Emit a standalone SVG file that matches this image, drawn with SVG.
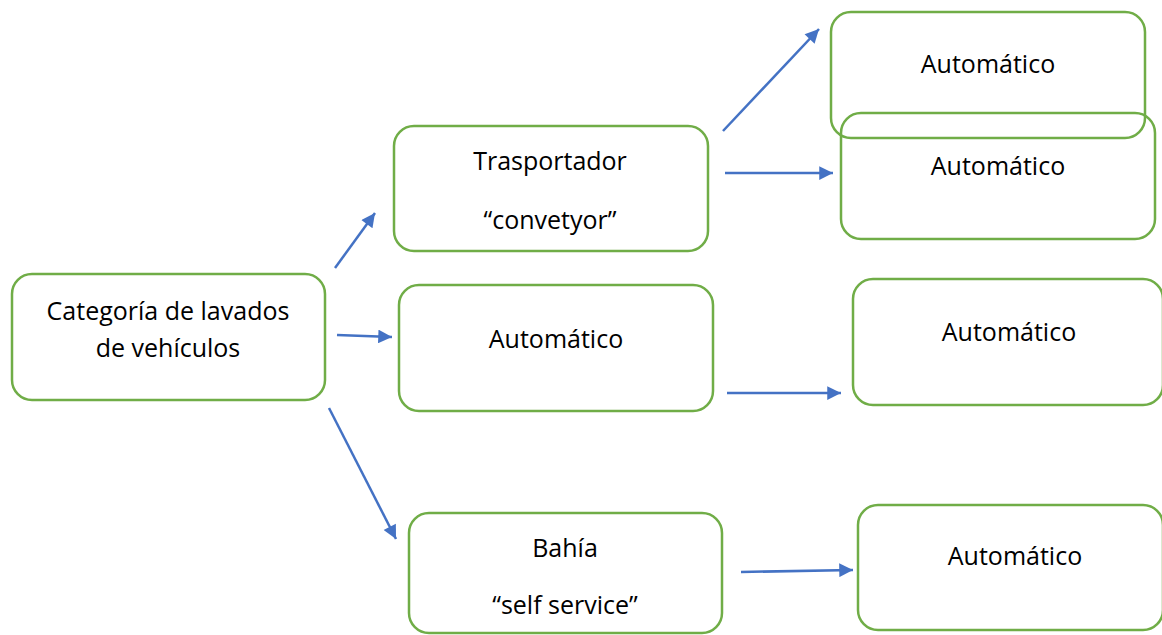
<svg xmlns="http://www.w3.org/2000/svg" width="1162" height="635" viewBox="0 0 1162 635">
<style>
.box{fill:#fff;fill-opacity:0;stroke:#70AD47;stroke-width:2.5}
.t{font-family:"Open Sans","Liberation Sans",sans-serif;font-size:25px;fill:#000;text-anchor:middle}
.c{stroke:#4472C4;stroke-width:2.5;fill:none;marker-end:url(#ah)}
</style>
<defs>
<marker id="ah" viewBox="0 0 10 10" refX="10" refY="5" markerWidth="6.5" markerHeight="5.5" orient="auto" markerUnits="strokeWidth">
<path d="M0,0 L10,5 L0,10 z" fill="#4472C4"/>
</marker>
</defs>
<rect width="1162" height="635" fill="#fff"/>
<g id="n-main"><rect class="box" x="12" y="274" width="313" height="126" rx="20"/>
<text class="t" x="168" y="320">Categoría de lavados</text>
<text class="t" x="168" y="357">de vehículos</text></g>
<g id="n-trasportador"><rect class="box" x="394" y="126" width="314" height="125" rx="20"/>
<text class="t" x="550" y="170">Trasportador</text>
<text class="t" x="550" y="229">“convetyor”</text></g>
<g id="n-automatico-mid"><rect class="box" x="399" y="285" width="314" height="126" rx="20"/>
<text class="t" x="556" y="348">Automático</text></g>
<g id="n-bahia"><rect class="box" x="409" y="513" width="313" height="120" rx="20"/>
<text class="t" x="565" y="557">Bahía</text>
<text class="t" x="565" y="614">“self service”</text></g>
<g id="n-auto-top1"><rect class="box" x="831" y="12" width="314" height="126" rx="20"/>
<text class="t" x="988" y="73">Automático</text></g>
<g id="n-auto-top2"><rect class="box" x="841" y="113" width="314" height="126" rx="20"/>
<text class="t" x="998" y="175">Automático</text></g>
<g id="n-auto-right-mid"><rect class="box" x="853" y="279" width="310" height="126" rx="20"/>
<text class="t" x="1009" y="341">Automático</text></g>
<g id="n-auto-right-bot"><rect class="box" x="858" y="505" width="305" height="125" rx="20"/>
<text class="t" x="1015" y="565">Automático</text></g>
<g id="connectors">
<line class="c" x1="335" y1="268" x2="375" y2="213"/>
<line class="c" x1="337" y1="335" x2="392" y2="337"/>
<line class="c" x1="329" y1="408" x2="396" y2="539"/>
<line class="c" x1="723" y1="131" x2="819" y2="29"/>
<line class="c" x1="725" y1="173" x2="833" y2="173"/>
<line class="c" x1="727" y1="393" x2="841" y2="393"/>
<line class="c" x1="741" y1="572" x2="853" y2="570"/>
</g>
</svg>
